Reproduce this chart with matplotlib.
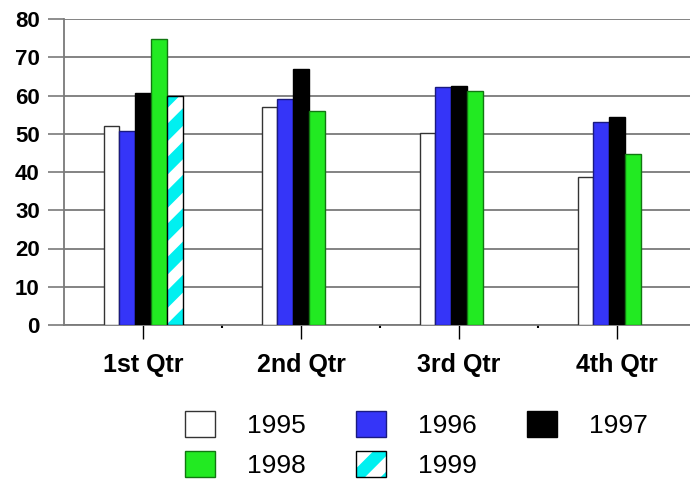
import matplotlib.pyplot as plt
import numpy as np
from matplotlib.patches import Patch
from matplotlib.legend_handler import HandlerTuple

plt.rcParams['font.family'] = ['Liberation Sans', 'DejaVu Sans']
plt.rcParams['hatch.linewidth'] = 9

quarters = ["1st Qtr", "2nd Qtr", "3rd Qtr", "4th Qtr"]
years = ["1995", "1996", "1997", "1998", "1999"]

v1995 = [52, 57, 50.3, 38.8]
v1996 = [50.8, 59.1, 62.1, 53.2]
v1997 = [60.6, 66.8, 62.5, 54.4]
v1998 = [74.7, 55.9, 61.3, 44.6]
v1999 = [60, np.nan, np.nan, np.nan]

series = [v1995, v1996, v1997, v1998, v1999]
faces = ['white', '#3535f8', 'black', '#22ea22', 'white']
edges = ['#333333', '#1a1a80', 'black', '#117711', 'black']

fig = plt.figure(figsize=(6.9, 4.79), dpi=100)
ax = fig.add_axes([64 / 690, 1 - 325 / 479, 632 / 690, 306 / 479])

x = np.arange(len(quarters))
w = 0.1
offsets = [-2, -1, 0, 1, 2]

for i, vals in enumerate(series):
    pos = x + offsets[i] * w
    if years[i] == "1999":
        ax.bar(pos, vals, w, facecolor='white', edgecolor='#00f0f0',
               hatch='/', linewidth=0, zorder=3)
        ax.bar(pos, vals, w, fill=False, edgecolor='black', linewidth=1, zorder=4)
    else:
        ax.bar(pos, vals, w, color=faces[i], edgecolor=edges[i], linewidth=1, zorder=3)

ax.set_xlim(-0.5, len(quarters) - 0.5)
ax.set_ylim(0, 80)
ax.set_yticks(np.arange(0, 81, 10))
ax.yaxis.grid(True, color='#7a7a7a', linewidth=1.3, zorder=0)
ax.tick_params(axis='y', length=11.5, width=1.2, color='#7a7a7a', pad=6,
               labelsize=16)
for lbl in ax.get_yticklabels():
    lbl.set_fontweight('bold')

ax.set_xticks(x)
ax.set_xticklabels(quarters, fontsize=18, fontweight='bold')
ax.set_xticks(x[:-1] + 0.5, minor=True)
ax.tick_params(axis='x', which='major', length=10, width=1, color='black', pad=10)
ax.tick_params(axis='x', which='minor', length=2, width=1.5, color='black')

for side in ['top', 'right']:
    ax.spines[side].set_visible(False)
ax.spines['left'].set_color('#7a7a7a')
ax.spines['left'].set_linewidth(1.3)
ax.spines['bottom'].set_color('#7a7a7a')
ax.spines['bottom'].set_linewidth(1.3)

# legend handles, reordered so rows read 1995-1997 / 1998-1999
h = [Patch(facecolor=faces[i], edgecolor=edges[i], linewidth=1) for i in range(4)]
h99 = (Patch(facecolor='white', edgecolor='#00f0f0', hatch='/', linewidth=0),
       Patch(fill=False, edgecolor='black', linewidth=1))
order_h = [h[0], h[3], h[1], h99, h[2]]
order_l = [years[0], years[3], years[1], years[4], years[2]]
fig.legend(order_h, order_l, ncol=3, frameon=False, fontsize=19,
           loc='upper left', bbox_to_anchor=(185 / 690, 1 - 411 / 479),
           borderpad=0, borderaxespad=0, handlelength=1.15, handleheight=1.15,
           handletextpad=1.2, columnspacing=1.9, labelspacing=0.48,
           handler_map={tuple: HandlerTuple(ndivide=1, pad=0)})

plt.savefig("out.png", dpi=100)
